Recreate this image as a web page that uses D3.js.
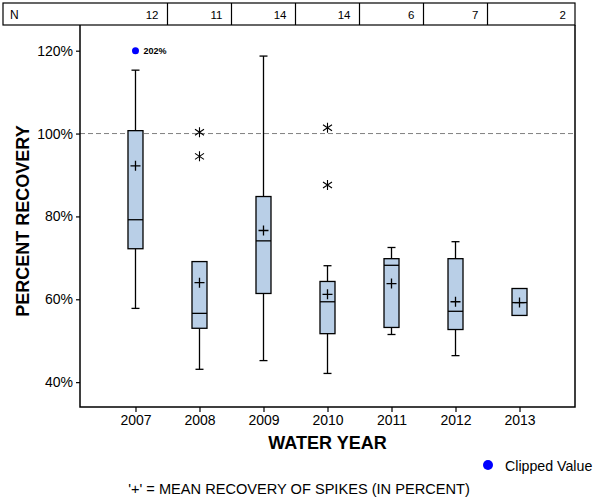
<!DOCTYPE html>
<html><head><meta charset="utf-8">
<script src="https://cdn.jsdelivr.net/npm/d3@7"></script>
<style>body{margin:0;background:#fff}svg{display:block;font-family:"Liberation Sans",Arial,sans-serif}</style>
</head><body><svg id="c" width="600" height="500"></svg>
<script>
const years = ["2007","2008","2009","2010","2011","2012","2013"];
const counts = [12,11,14,14,6,7,2];
const whiskerLow = [57.8,43.1,45.2,42.1,51.5,46.4,56.1];
const q1 = [72.2,53.0,61.4,51.7,53.2,52.7,56.1];
const median = [79.2,56.6,74.1,59.4,68.2,57.1,59.2];
const q3 = [100.7,69.1,84.8,64.3,69.8,69.8,62.6];
const whiskerHigh = [115.3,69.1,118.7,68.1,72.5,73.9,62.6];
const means = [92.2,64.0,76.6,61.2,63.8,59.4,59.2];
const outliers = [{year:"2008",v:100.3},{year:"2008",v:94.5},{year:"2010",v:101.4},{year:"2010",v:87.6}];
const clipped = [{year:"2007",shown:120,label:"202%"}];
const yTicks = [40,60,80,100,120];
const refLine = 100;

const svg = d3.select("#c");
const L=80,R=575,T=25,B=407;
const x = d3.scalePoint().domain(years).range([L,R]).padding(0.867);
const y = d3.scaleLinear().domain([34,126.2]).range([B,T]);
const step = x.step();
const bw = 15, cap = 4, ms = 5;

// N table
const tbl = svg.append("g");
tbl.append("rect").attr("x",3).attr("y",3).attr("width",R-3).attr("height",T-3)
  .attr("fill","none").attr("stroke","#000").attr("stroke-width",1.2);
years.forEach((yr,i)=>{
  const right = i<years.length-1 ? x(yr)+step/2 : R;
  if(i<years.length-1) tbl.append("line").attr("x1",right).attr("x2",right).attr("y1",3).attr("y2",T).attr("stroke","#000").attr("stroke-width",1.2);
  tbl.append("text").attr("x",right-9).attr("y",19).attr("text-anchor","end").attr("font-size",11.5).text(counts[i]);
});
tbl.append("text").attr("x",10).attr("y",19).attr("font-size",12).text("N");

// reference line
svg.append("line").attr("x1",L).attr("x2",R).attr("y1",y(refLine)).attr("y2",y(refLine))
  .attr("stroke","#808080").attr("stroke-dasharray","5,3").attr("stroke-width",1);

// axes
const ya = svg.append("g").attr("transform",`translate(${L},0)`)
  .call(d3.axisLeft(y).tickValues(yTicks).tickFormat(d=>d+"%").tickSize(4).tickPadding(3));
ya.select(".domain").remove();
ya.selectAll("text").attr("font-size",14).attr("font-family","Liberation Sans, Arial, sans-serif").attr("fill","#000");
ya.selectAll("line").attr("stroke","#000").attr("stroke-width",1.2);
const xa = svg.append("g").attr("transform",`translate(0,${B})`)
  .call(d3.axisBottom(x).tickSize(5).tickPadding(3));
xa.select(".domain").remove();
xa.selectAll("text").attr("font-size",14).attr("font-family","Liberation Sans, Arial, sans-serif").attr("fill","#000");
xa.selectAll("line").attr("stroke","#000").attr("stroke-width",1.2);
svg.append("path").attr("d",`M${L},${T}V${B}H${R}V${T}`).attr("fill","none").attr("stroke","#000").attr("stroke-width",1.5);

// boxes
const g = svg.append("g").attr("stroke","#000").attr("stroke-width",1.3);
years.forEach((yr,i)=>{
  const cx = x(yr);
  if(whiskerHigh[i]>q3[i]){
    g.append("line").attr("x1",cx).attr("x2",cx).attr("y1",y(q3[i])).attr("y2",y(whiskerHigh[i]));
    g.append("line").attr("x1",cx-cap).attr("x2",cx+cap).attr("y1",y(whiskerHigh[i])).attr("y2",y(whiskerHigh[i]));
  }
  if(whiskerLow[i]<q1[i]){
    g.append("line").attr("x1",cx).attr("x2",cx).attr("y1",y(q1[i])).attr("y2",y(whiskerLow[i]));
    g.append("line").attr("x1",cx-cap).attr("x2",cx+cap).attr("y1",y(whiskerLow[i])).attr("y2",y(whiskerLow[i]));
  }
  g.append("rect").attr("x",cx-bw/2).attr("width",bw).attr("y",y(q3[i])).attr("height",y(q1[i])-y(q3[i]))
    .attr("fill","#b9cfe7");
  g.append("line").attr("x1",cx-bw/2).attr("x2",cx+bw/2).attr("y1",y(median[i])).attr("y2",y(median[i]));
  const my = y(means[i]);
  g.append("path").attr("d",`M${cx-ms},${my}H${cx+ms}M${cx},${my-ms}V${my+ms}`).attr("fill","none");
});

// outliers (asterisks)
outliers.forEach(o=>{
  const cx=x(o.year), cy=y(o.v);
  g.append("path").attr("d",`M${cx},${cy-5}V${cy+5}M${cx-4.5},${cy-3}L${cx+4.5},${cy+3}M${cx-4.5},${cy+3}L${cx+4.5},${cy-3}`)
    .attr("fill","none").attr("stroke-width",1.1);
});

// clipped
clipped.forEach(c=>{
  svg.append("circle").attr("cx",x(c.year)).attr("cy",y(c.shown)).attr("r",3.5).attr("fill","#0000ff");
  svg.append("text").attr("x",x(c.year)+8).attr("y",y(c.shown)+3.5).attr("font-size",9).attr("font-weight","bold").text(c.label);
});

// titles
svg.append("text").attr("x",(L+R)/2).attr("y",449).attr("text-anchor","middle").attr("font-size",18).attr("font-weight","bold").text("WATER YEAR");
svg.append("text").attr("transform",`translate(29,${(T+B)/2+5}) rotate(-90)`).attr("text-anchor","middle").attr("font-size",18).attr("font-weight","bold").text("PERCENT RECOVERY");

// legend
svg.append("circle").attr("cx",488).attr("cy",465).attr("r",5).attr("fill","#0000ff");
svg.append("text").attr("x",505).attr("y",471).attr("font-size",14.2).text("Clipped Value");
svg.append("text").attr("x",299).attr("y",494).attr("text-anchor","middle").attr("font-size",14.6).text("'+' = MEAN RECOVERY OF SPIKES (IN PERCENT)");
</script></body></html>
